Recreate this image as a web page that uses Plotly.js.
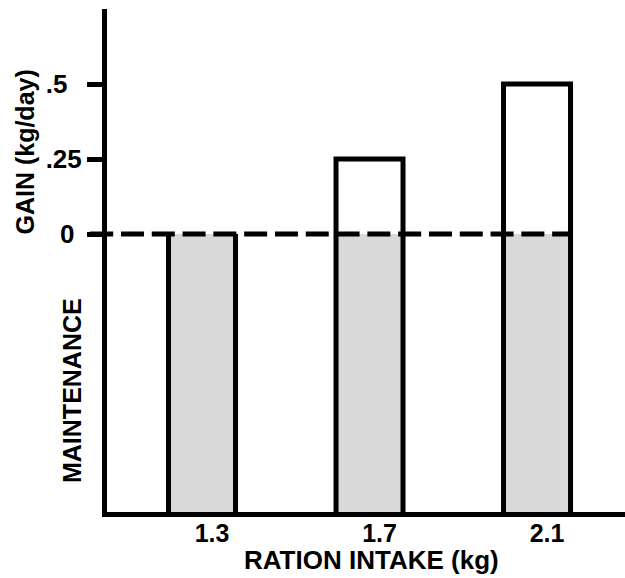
<!DOCTYPE html>
<html>
<head>
<meta charset="utf-8">
<script src="https://cdn.plot.ly/plotly-3.0.1.min.js"></script>
<style>
  html, body { margin: 0; padding: 0; background: #ffffff; }
  #chart { width: 625px; height: 578px; }
</style>
</head>
<body>
<div id="chart"></div>
<script>
// ---- data ----
var rationIntake = [1.3, 1.7, 2.1];            // kg
var rationLabels = ['1.3', '1.7', '2.1'];
var gain = [0, 0.25, 0.5];                      // kg/day above maintenance
var gainTickVals = [0, 0.25, 0.5];
var gainTickText = ['0\u00A0', '.25', '.5\u00A0\u00A0'];

// ---- layout constants ----
var FONT = 'Liberation Sans, Arial, Helvetica, sans-serif';
var barWidth = 0.16;
var xRange = [1.0731, 2.3101];
var yRange = [-0.9267, 0.75];
var yFloor = yRange[0];

// maintenance (grey) part: from the axis floor up to zero
var maintBase = rationIntake.map(function () { return yFloor; });
var maintHeight = rationIntake.map(function () { return 0 - yFloor; });

// outline of each bar (sides run down to the floor, top at gain)
var ox = [], oy = [];
rationIntake.forEach(function (x, i) {
  var l = x - barWidth / 2, r = x + barWidth / 2, top = gain[i];
  if (top > 0) {
    ox.push(l, l, r, r, null);
    oy.push(yFloor, top, top, yFloor, null);
  } else {
    ox.push(l, l, null, r, r, null);
    oy.push(yFloor, top, null, top, yFloor, null);
  }
});

var traces = [
  {
    type: 'bar',
    x: rationIntake,
    y: maintHeight,
    base: maintBase,
    width: barWidth,
    marker: { color: '#d9d9d9', line: { width: 0 } },
    hoverinfo: 'skip',
    showlegend: false
  },
  {
    type: 'scatter',
    mode: 'lines',
    x: ox,
    y: oy,
    line: { color: '#000000', width: 5 },
    hoverinfo: 'skip',
    showlegend: false,
    connectgaps: false
  }
];

function xFrac(v) { return (v - xRange[0]) / (xRange[1] - xRange[0]); }

var layout = {
  width: 625,
  height: 578,
  margin: { l: 107, r: 0, t: 9, b: 66, pad: 0 },
  paper_bgcolor: '#ffffff',
  plot_bgcolor: '#ffffff',
  showlegend: false,
  font: { family: FONT, color: '#000000' },
  xaxis: {
    range: xRange,
    showgrid: false,
    zeroline: false,
    showline: true,
    linecolor: '#000000',
    linewidth: 5,
    ticks: '',
    ticklen: 0,
    tickmode: 'array',
    tickvals: rationIntake,
    ticktext: rationLabels,
    tickfont: { family: FONT, size: 25, weight: 'bold', color: '#000000' },
    ticklabelshift: 10,
    ticklabelstandoff: -5,
    fixedrange: true
  },
  yaxis: {
    range: yRange,
    showgrid: false,
    zeroline: false,
    showline: true,
    linecolor: '#000000',
    linewidth: 5,
    ticks: 'outside',
    ticklen: 15,
    tickwidth: 5,
    tickcolor: '#000000',
    tickmode: 'array',
    tickvals: gainTickVals,
    ticktext: gainTickText,
    tickfont: { family: FONT, size: 26, weight: 'bold', color: '#000000' },
    ticklabelstandoff: 0,
    fixedrange: true
  },
  shapes: [
    {
      type: 'line',
      xref: 'paper', yref: 'y',
      x0: -0.0325,
      x1: xFrac(rationIntake[rationIntake.length - 1] + barWidth / 2),
      y0: 0, y1: 0,
      line: { color: '#000000', width: 5, dash: '23px,7.8px' },
      layer: 'above'
    }
  ],
  annotations: [
    {
      text: 'RATION INTAKE (kg)',
      xref: 'paper', yref: 'paper',
      x: 0.5097, y: -0.0954,
      xanchor: 'center', yanchor: 'middle',
      showarrow: false,
      font: { family: FONT, size: 26, weight: 'bold', color: '#000000' }
    },
    {
      text: 'GAIN (kg/day)',
      xref: 'paper', yref: 'paper',
      x: -0.1602, y: 0.7147,
      xanchor: 'center', yanchor: 'middle',
      textangle: -90,
      showarrow: false,
      font: { family: FONT, size: 25, weight: 'bold', color: '#000000' }
    },
    {
      text: 'MAINTENANCE',
      xref: 'paper', yref: 'paper',
      x: -0.0676, y: 0.2425,
      xanchor: 'center', yanchor: 'middle',
      textangle: -90,
      showarrow: false,
      font: { family: FONT, size: 25, weight: 'bold', color: '#000000' }
    }
  ]
};

Plotly.newPlot('chart', traces, layout, { displayModeBar: false, staticPlot: true });
</script>
</body>
</html>
